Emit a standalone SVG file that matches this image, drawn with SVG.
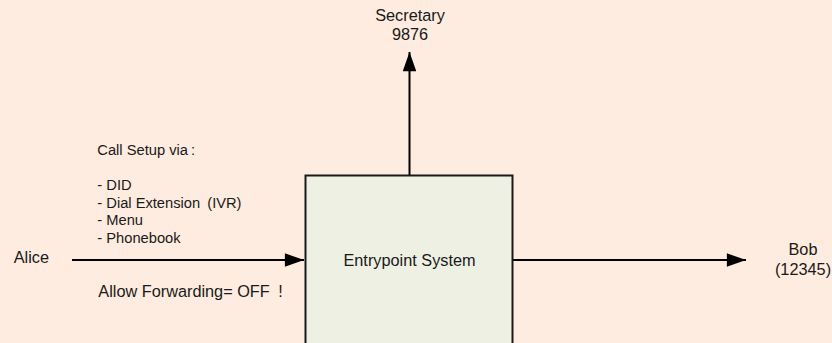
<svg xmlns="http://www.w3.org/2000/svg" width="832" height="343" viewBox="0 0 832 343">
  <style>
    .t { font-family: "Liberation Sans", Arial, sans-serif; fill: #1a1a1a; }
    .big { font-size: 16.3px; }
    .small { font-size: 14.7px; }
    .conn { stroke: #000; stroke-width: 2; fill: none; }
    .box { fill: #EFF0E4; stroke: #1a1a1a; stroke-width: 2; }
  </style>
  <defs>
    <marker id="arrow" viewBox="0 0 20 14" refX="20" refY="7" markerWidth="20" markerHeight="13.4" markerUnits="userSpaceOnUse" orient="auto">
      <path d="M0,0 L20,7 L0,14 Z" fill="#000"/>
    </marker>
  </defs>
  <rect x="0" y="0" width="832" height="343" fill="#FDECDF"/>

  <g id="connectors">
    <path class="conn" d="M72,260 L304,260" marker-end="url(#arrow)"/>
    <path class="conn" d="M513,260 L746,260" marker-end="url(#arrow)"/>
    <path class="conn" d="M409.5,175 L409.5,52" marker-end="url(#arrow)"/>
  </g>

  <g id="entrypoint">
    <rect class="box" x="305.5" y="175.5" width="207" height="180"/>
    <text class="t big" x="409.5" y="266" text-anchor="middle">Entrypoint System</text>
  </g>

  <g id="alice">
    <text class="t big" x="49" y="263" text-anchor="end">Alice</text>
  </g>

  <g id="bob">
    <text class="t big" x="803" y="255" text-anchor="middle">Bob</text>
    <text class="t big" x="803" y="275" text-anchor="middle">(12345)</text>
  </g>

  <g id="secretary">
    <text class="t big" x="410" y="21" text-anchor="middle">Secretary</text>
    <text class="t big" x="410" y="40" text-anchor="middle">9876</text>
  </g>

  <g id="call-setup-note">
    <text class="t small" x="97.3" y="155">Call Setup via<tspan dx="3">:</tspan></text>
    <text class="t small" x="97.3" y="190">- DID</text>
    <text class="t small" x="97.3" y="207.5">- Dial Extension <tspan dx="3">(IVR)</tspan></text>
    <text class="t small" x="97.3" y="225">- Menu</text>
    <text class="t small" x="97.3" y="242.5">- Phonebook</text>
  </g>

  <g id="forwarding-note">
    <text class="t big" x="98.3" y="297">Allow Forwarding= OFF <tspan dx="4">!</tspan></text>
  </g>
</svg>
